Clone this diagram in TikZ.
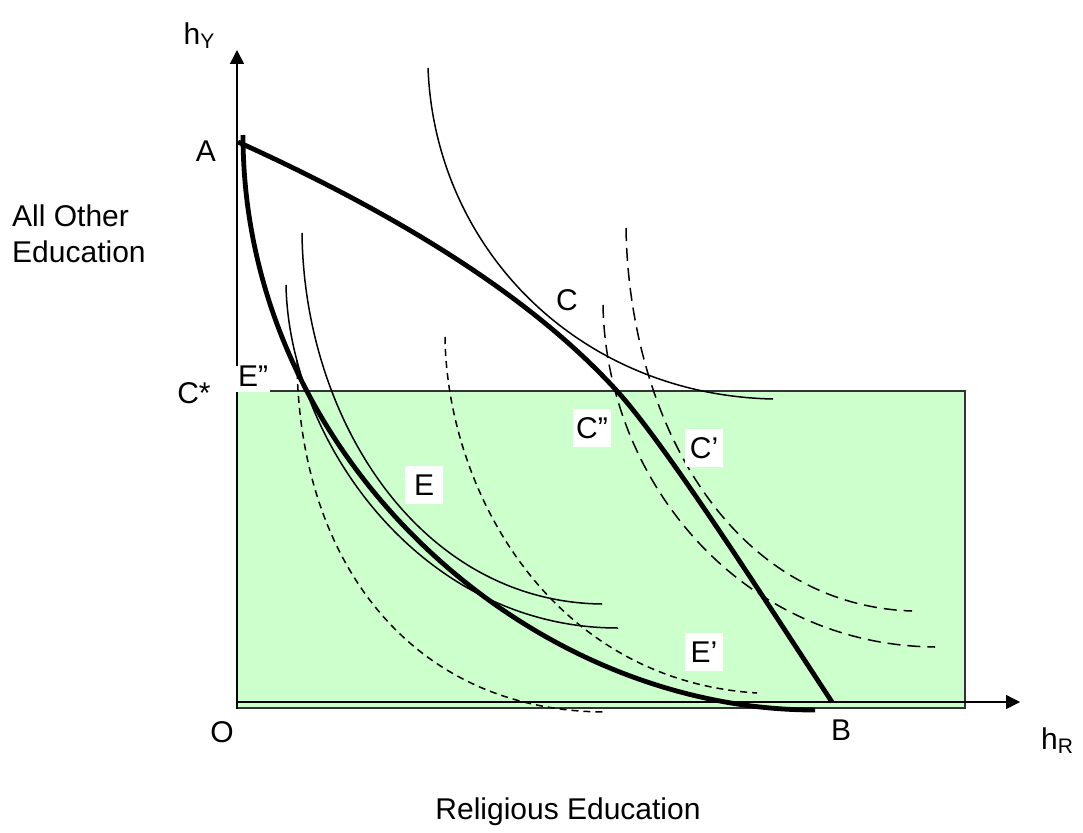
\documentclass[tikz,border=0pt]{standalone}
\usepackage{fontspec}
\setmainfont{Liberation Sans}
\usetikzlibrary{arrows.meta}
\definecolor{lgreen}{HTML}{CCFFCC}
\begin{document}
\begin{tikzpicture}[x=1pt,y=-1pt,
  bold/.style={line width=4.8pt, line join=round},
  thin/.style={line width=1.5pt},
  ldash/.style={line width=1.5pt, dash pattern=on 13pt off 7pt},
  sdash/.style={line width=1.5pt, dash pattern=on 7pt off 5pt},
  lbl/.style={font=\fontsize{30}{36}\selectfont, inner sep=0pt},
  wlbl/.style={lbl, fill=white, minimum width=38pt, minimum height=38pt},
  axis/.style={line width=1.4pt, -{Triangle[length=14pt,width=14pt]}}]
\useasboundingbox (0,0) rectangle (1083,832);
% shaded region
\fill[lgreen] (237,391) rectangle (965,708);
\draw[line width=1.2pt, black!80] (237,391) rectangle (965,708);
% short dashed indifference curves
\draw[sdash] (445,337) .. controls (447,490) and (550,680) .. (757,693);
\draw[sdash] (297,360) .. controls (298,560) and (410,712) .. (607,712);
% long dashed indifference curves
\draw[ldash] (626,228) .. controls (629,420) and (730,605) .. (912,611);
\draw[ldash] (603,305) .. controls (606,480) and (740,645) .. (935,647);
% thin indifference curves
\draw[thin] (428,68) .. controls (435,250) and (580,395) .. (773,399);
\draw[thin] (302,233) .. controls (304,420) and (420,602) .. (602,604);
\draw[thin] (286,285) .. controls (289,440) and (420,628) .. (618,628);
% production possibility frontiers
\draw[bold] (238,142) .. controls (388,210) and (527,292) .. (617,391)
            .. controls (667,446) and (772,611) .. (832,702);
\draw[bold] (243,135) .. controls (243,454) and (524,710) .. (815,710);
% axes
\coordinate (ybot) at (237,709);
\coordinate (ytop) at (237,50);
\coordinate (xorig) at (237,702);
\coordinate (xend) at (1020,702);
\draw[axis] (ybot) -- (ytop);
\draw[axis] (xorig) -- (xend);
% labels
\node[lbl] (hY) at (199,36) {h\raisebox{-4pt}{\fontsize{21}{21}\selectfont Y}};
\node[lbl] (A) at (206,151) {A};
\node[lbl, align=left, anchor=west] (aoe) at (12,234) {All Other\\Education};
\node[lbl] (Cstar) at (194,393) {C*};
\node[lbl, fill=white, anchor=south west, inner xsep=2pt, inner ysep=0pt, text depth=6pt] (Edd) at (236,392.5) {E”\hspace{12pt}};
\node[lbl] (C) at (567,300) {C};
\node[wlbl] (Cdd) at (592,428) {C”};
\node[wlbl] (Cd) at (704,448) {C’};
\node[wlbl] (E) at (424,485) {E\hspace{9pt}};
\node[wlbl] (Ed) at (704,652) {E’};
\node[lbl] (O) at (222,732) {O};
\node[lbl] (B) at (841,730) {B};
\node[lbl] (hR) at (1057,741) {h\raisebox{-4pt}{\fontsize{21}{21}\selectfont R}};
\node[lbl] (rel) at (568,812) {Religious Education};
\end{tikzpicture}
\end{document}
